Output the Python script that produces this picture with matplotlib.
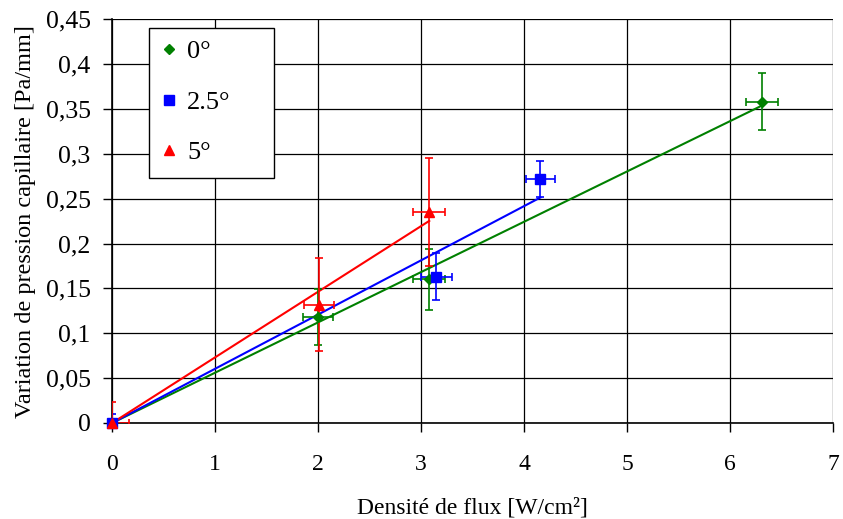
import numpy as np
import matplotlib.pyplot as plt
from matplotlib.patches import Rectangle

plt.rcParams['font.family'] = ['Liberation Serif', 'DejaVu Serif']

# 0 degres
x0 = [0.0, 2.0, 3.08, 6.31]
y0 = [0.0, 0.118, 0.160, 0.358]
x0_err = [0.0, 0.145, 0.155, 0.155]
y0_err = [0.0, 0.031, 0.034, 0.032]

# 2.5 degres
x25 = [0.0, 3.15, 4.16]
y25 = [0.0, 0.163, 0.272]
x25_err = [0.0, 0.15, 0.145]
y25_err = [0.010, 0.026, 0.020]

# 5 degres
x5 = [0.0, 2.01, 3.08]
y5 = [0.0, 0.132, 0.235]
x5_err = [0.165, 0.145, 0.155]
y5_err = [0.023, 0.052, 0.060]

series = [
    ('0°', x0, y0, x0_err, y0_err, 'green', 'D', 5),
    ('2.5°', x25, y25, x25_err, y25_err, 'blue', 's', 7),
    ('5°', x5, y5, x5_err, y5_err, 'red', '^', 7),
]

fig = plt.figure(figsize=(8.43, 5.19), dpi=100)
ax = fig.add_axes([0.133, 0.185, 0.855, 0.778])

for label, x, y, xe, ye, color, marker, ms in series:
    x = np.array(x)
    y = np.array(y)
    # linear trend line forced through the origin
    slope = np.sum(x * y) / np.sum(x * x)
    ax.plot([0, x.max()], [0, slope * x.max()], color=color, lw=1.5,
            zorder=3, clip_on=False)
    ax.errorbar(x, y, xerr=xe, yerr=ye, fmt='none', ecolor=color,
                elinewidth=1.2, capsize=2.6, capthick=1.2, zorder=4)
    ax.plot(x, y, linestyle='none', marker=marker, color=color,
            markersize=ms, label=label, zorder=5, clip_on=False)

ax.set_xlim(0, 7)
ax.set_ylim(0, 0.45)
ax.set_xticks(np.arange(0, 8, 1))
ax.set_yticks(np.arange(0, 0.451, 0.05))
ax.set_yticklabels(['0', '0,05', '0,1', '0,15', '0,2', '0,25', '0,3',
                    '0,35', '0,4', '0,45'])
ax.grid(True, color='black', lw=0.9)
ax.set_axisbelow(True)
for s in ['top', 'right']:
    ax.spines[s].set_visible(False)
for s in ['left', 'bottom']:
    ax.spines[s].set_linewidth(1.2)
ax.tick_params(direction='out', length=6.5, width=1, labelsize=18.5, pad=9)
ax.tick_params(axis='x', labelsize=17, pad=16)

ax.set_xlabel('Densité de flux [W/cm²]', fontsize=17, labelpad=16)
ax.set_ylabel('Variation de pression capillaire [Pa/mm]', fontsize=17.5, labelpad=7)

# legend box drawn by hand so its width matches
ax.add_patch(Rectangle((0.0513, 0.6064), 0.1734, 0.3713, transform=ax.transAxes,
                       facecolor='white', edgecolor='black', lw=1.0, zorder=6))
leg = ax.legend(loc='upper left', bbox_to_anchor=(0.051, 0.978), fontsize=19,
                frameon=False, labelspacing=1.02, handlelength=0.6,
                handletextpad=0.4, borderpad=0.45, borderaxespad=0)
leg.set_zorder(7)

fig.savefig('out.png', dpi=100)
